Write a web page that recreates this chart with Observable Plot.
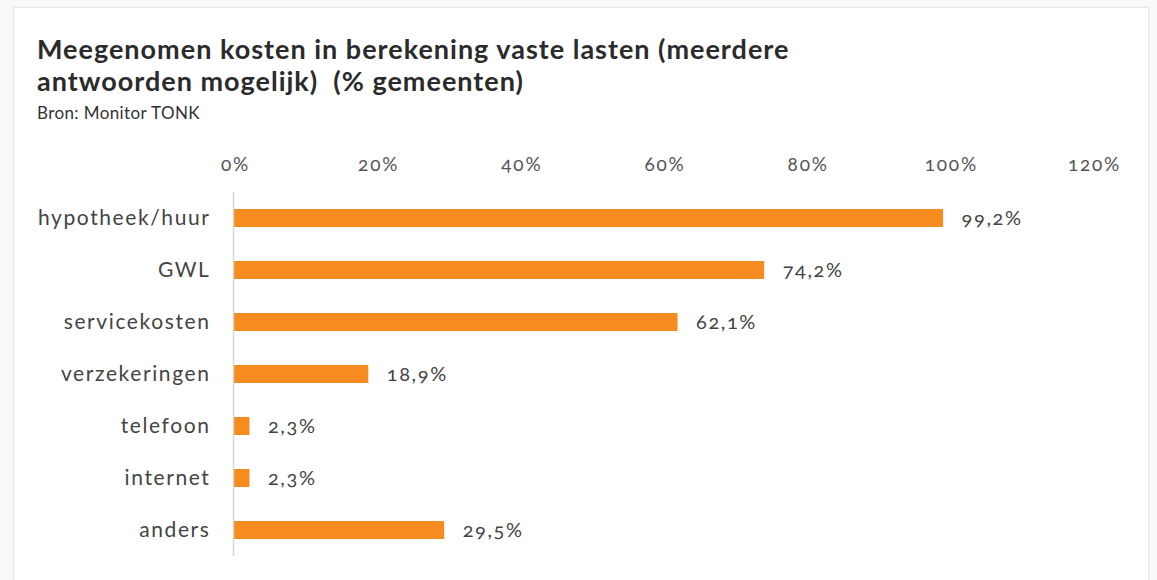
<!DOCTYPE html>
<html>
<head>
<meta charset="utf-8">
<script src="https://cdn.jsdelivr.net/npm/d3@7"></script>
<script src="https://cdn.jsdelivr.net/npm/@observablehq/plot@0.6"></script>
<style>
  html, body { margin: 0; padding: 0; background: #f7f7f7; }
  #wrap { position: relative; width: 1157px; height: 580px; overflow: hidden; background: #f9f9f9; }
  #card { position: absolute; left: 13px; top: 7px; width: 1134px; height: 600px; background: #fff;
          border: 1px solid #e8e8e8; box-shadow: 0 0 2px rgba(0,0,0,0.06); }
  #title { position: absolute; left: 37px; top: 33px; font-family: Lato, "Open Sans", sans-serif;
           font-weight: 700; font-size: 27px; line-height: 32px; color: #2b2b2b; letter-spacing: 1px; }
  #sub { position: absolute; left: 37px; top: 102px; font-family: Lato, sans-serif; font-size: 17px; color: #333; letter-spacing: 0.4px; }
  #chart { position: absolute; left: 0; top: 130px; }
  #chart svg { font-variant-numeric: oldstyle-nums; font-feature-settings: "onum"; }
  #chart svg .ylab text { letter-spacing: 1.6px; }
  #chart svg .xlab text { letter-spacing: 1.8px; }
  #chart svg .vlab text { letter-spacing: 1.6px; }
</style>
</head>
<body>
<div id="wrap">
  <div id="card"></div>
  <div id="title">Meegenomen kosten in berekening vaste lasten (meerdere<br>antwoorden mogelijk)&nbsp; (% gemeenten)</div>
  <div id="sub">Bron: Monitor TONK</div>
  <div id="chart"></div>
</div>
<script>
const categories = ["hypotheek/huur", "GWL", "servicekosten", "verzekeringen", "telefoon", "internet", "anders"];
const values = [99.2, 74.2, 62.1, 18.9, 2.3, 2.3, 29.5];
const xTicks = [0, 20, 40, 60, 80, 100, 120];

const data = categories.map((c, i) => ({category: c, value: values[i]}));
const fmt = v => v.toFixed(1).replace(".", ",") + "%";

const chart = Plot.plot({
  width: 1157,
  height: 450,
  marginTop: 62,
  marginBottom: 24,
  marginLeft: 233,
  marginRight: 65,
  style: {fontFamily: "Lato, 'Open Sans', sans-serif", background: "transparent", color: "#444"},
  x: {domain: [0, 120], label: null},
  y: {domain: categories, paddingInner: 0.654, paddingOuter: 0.327, label: null},
  marks: [
    Plot.axisX({anchor: "top", ticks: xTicks, tickFormat: d => d + "%", tickSize: 0, tickPadding: 22, fontSize: 19, fill: "#555", label: null, className: "xlab", dx: 2}),
    Plot.axisY({anchor: "left", tickSize: 0, tickPadding: 23, fontSize: 21, fill: "#444", label: null, className: "ylab"}),
    Plot.barX(data, {x: "value", y: "category", fill: "#f68b1f"}),
    Plot.ruleX([0], {stroke: "#d6d6d6", strokeWidth: 1.5}),
    Plot.text(data, {x: "value", y: "category", text: d => fmt(d.value), dx: 18, textAnchor: "start", fontSize: 20, fill: "#444", className: "vlab"})
  ]
});
document.getElementById("chart").appendChild(chart);
</script>
</body>
</html>
